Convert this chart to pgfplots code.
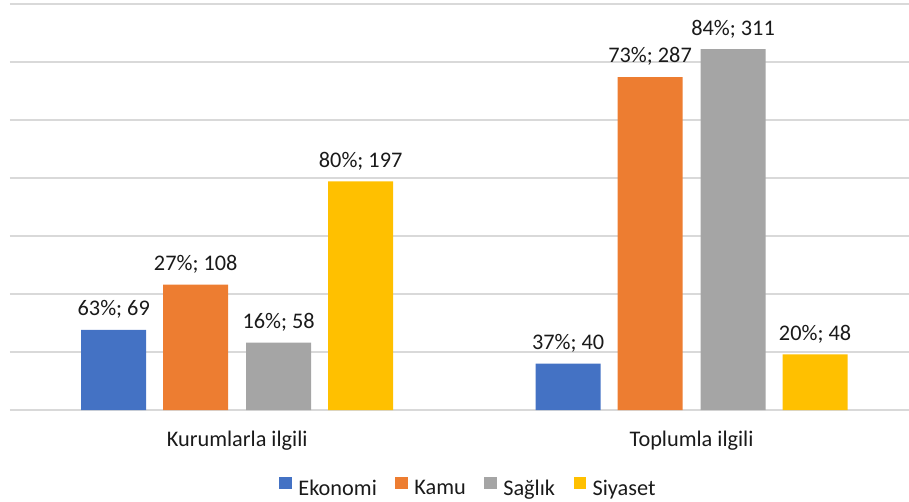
\documentclass[border=0pt]{standalone}
\usepackage{pgfplots}
\pgfplotsset{compat=1.18}
\usepackage{fontspec}
\setmainfont{Carlito}
\newcommand\fsz{\fontsize{22.3}{26}\selectfont}
\protected\def\sc{;}
\definecolor{cA}{HTML}{4472C4}
\definecolor{cB}{HTML}{ED7D31}
\definecolor{cC}{HTML}{A5A5A5}
\definecolor{cD}{HTML}{FFC000}
\definecolor{gridc}{HTML}{D9D9D9}
\definecolor{txt}{HTML}{1A1A1A}
\begin{document}
\begin{tikzpicture}
\useasboundingbox (0,0) rectangle (909pt,501pt);
\begin{axis}[
  at={(10pt,91pt)}, anchor=south west,
  scale only axis, width=899pt, height=406pt,
  xmin=-0.5, xmax=1.4785, ymin=0, ymax=350,
  ytick={0,50,...,350}, yticklabels={},
  ymajorgrids, major grid style={draw=gridc, line width=1.3pt},
  axis line style={draw=none}, major tick length=0pt,
  xtick={0,1}, xticklabels={Kurumlarla ilgili, Toplumla ilgili},
  xticklabel style={font=\fsz, text=txt, anchor=south, inner sep=0pt, text depth=0pt, yshift=-37pt},
  ybar, bar width=0.143,
  legend image code/.code={\fill[#1] (0pt,-1pt) rectangle (12.5pt,11.5pt);},
  legend columns=4,
  legend style={at={(0.5089,-0.1638)}, anchor=north, draw=none, fill=none, font=\fsz, inner sep=0pt,
    nodes={inner sep=0pt, text=txt},
    /tikz/every odd column/.append style={column sep=6.5pt},
    /tikz/every even column/.append style={column sep=18.5pt}},
  nodes near coords, point meta=explicit symbolic,
  every node near coord/.append style={font=\fsz, text=txt, anchor=south, inner sep=0pt, text depth=0pt, yshift=14pt},
]
\addplot[bar shift=0pt, fill=cA, draw=none] coordinates {(-0.2717,69) [63\%\sc{} 69] (0.7283,40) [37\%\sc{} 40]};
\addlegendentry{Ekonomi}
\addplot[bar shift=0pt, fill=cB, draw=none] coordinates {(-0.0913,108) [27\%\sc{} 108] (0.9087,287) [73\%\sc{} 287]};
\addlegendentry{Kamu}
\addplot[bar shift=0pt, fill=cC, draw=none] coordinates {(0.0913,58) [16\%\sc{} 58] (1.0913,311) [84\%\sc{} 311]};
\addlegendentry{Sağlık}
\addplot[bar shift=0pt, fill=cD, draw=none] coordinates {(0.2717,197) [80\%\sc{} 197] (1.2717,48) [20\%\sc{} 48]};
\addlegendentry{Siyaset}
\end{axis}
\end{tikzpicture}
\end{document}
